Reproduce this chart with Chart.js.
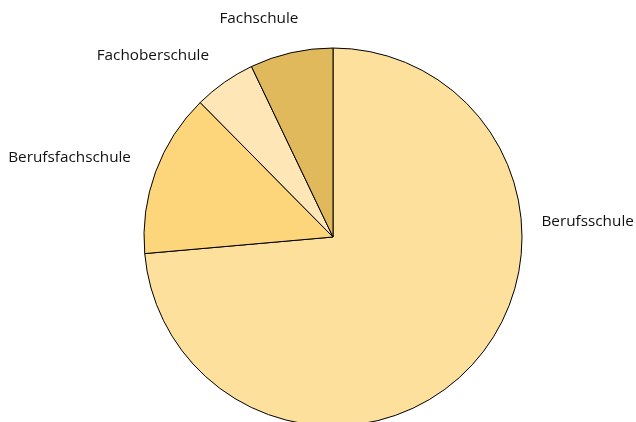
<!DOCTYPE html>
<html>
<head>
<meta charset="utf-8">
<script src="https://cdn.jsdelivr.net/npm/chart.js@4/dist/chart.umd.min.js"></script>
<style>
  html, body { margin: 0; padding: 0; background: #fff; }
  #wrap { width: 636px; height: 422px; }
</style>
</head>
<body>
<div id="wrap"><canvas id="c" width="636" height="422"></canvas></div>
<script>
const categories = ["Berufsschule", "Berufsfachschule", "Fachoberschule", "Fachschule"];
const shares = [73.6, 14.0, 5.3, 7.1];
const sliceColors = ["#FDE09C", "#FDD57B", "#FEE6B6", "#DFB95B"];

// label placement: angle (deg, clockwise from top), distance beyond the rim, alignment
const labelPlacement = [
  { angle: 85.9, gap: 20, align: "left" },
  { angle: 291.4, gap: 28, align: "right" },
  { angle: 325.7, gap: 31, align: "right" },
  { angle: 341.3, gap: 42, align: "center" }
];

const labelPlugin = {
  id: "outerLabels",
  afterDatasetsDraw(chart) {
    const meta = chart.getDatasetMeta(0);
    if (!meta.data.length) return;
    const arc = meta.data[0];
    const cx = arc.x, cy = arc.y, r = arc.outerRadius;
    const ctx = chart.ctx;
    ctx.save();
    ctx.font = "15.3px 'Open Sans', sans-serif";
    ctx.fillStyle = "#111";
    ctx.textBaseline = "middle";
    categories.forEach((name, i) => {
      const p = labelPlacement[i];
      const a = p.angle * Math.PI / 180;
      const d = r + p.gap;
      const x = cx + Math.sin(a) * d;
      const y = cy - Math.cos(a) * d;
      ctx.textAlign = p.align;
      ctx.fillText(name, x, y);
    });
    ctx.restore();
  }
};

new Chart(document.getElementById("c"), {
  type: "pie",
  data: {
    labels: categories,
    datasets: [{
      data: shares,
      backgroundColor: sliceColors,
      borderColor: "#000",
      borderWidth: 1,
      clip: false
    }]
  },
  options: {
    responsive: false,
    animation: false,
    radius: 189,
    layout: { padding: { left: 30, right: 0, top: 52, bottom: 0 } },
    plugins: {
      legend: { display: false },
      tooltip: { enabled: false }
    }
  },
  plugins: [labelPlugin]
});
</script>
</body>
</html>
